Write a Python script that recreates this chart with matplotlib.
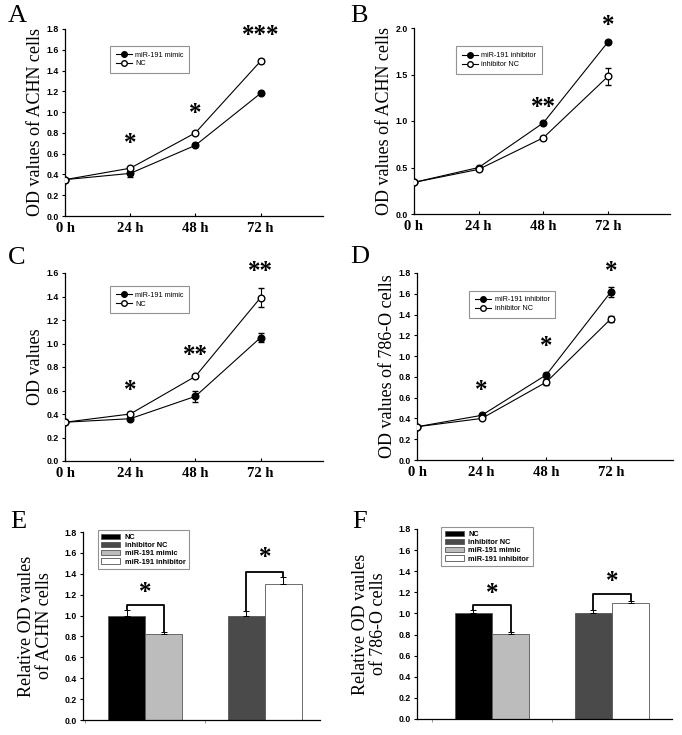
import numpy as np
import matplotlib
matplotlib.use("Agg")
import matplotlib.pyplot as plt
from matplotlib.patches import Patch
from matplotlib.lines import Line2D

# Datos
hours = [0, 24, 48, 72]
hour_labels = ["0 h", "24 h", "48 h", "72 h"]

# A: ACHN, mimic vs NC
a_mimic = [0.35, 0.41, 0.68, 1.18]
a_mimic_err = [0.0, 0.03, 0.01, 0.01]
a_nc = [0.35, 0.46, 0.80, 1.49]
a_nc_err = [0.0, 0.01, 0.01, 0.02]
a_stars = ["*", "*", "***"]
a_star_y = [0.70, 0.99, 1.74]

# B: ACHN, inhibitor vs inhibitor NC
b_inh = [0.34, 0.50, 0.98, 1.85]
b_inh_err = [0.0, 0.01, 0.01, 0.01]
b_nc = [0.34, 0.48, 0.82, 1.48]
b_nc_err = [0.0, 0.01, 0.02, 0.09]
b_stars = ["**", "*"]
b_star_y = [1.15, 2.03]

# C: mimic vs NC
c_mimic = [0.33, 0.36, 0.55, 1.05]
c_mimic_err = [0.0, 0.01, 0.05, 0.04]
c_nc = [0.33, 0.40, 0.72, 1.39]
c_nc_err = [0.0, 0.02, 0.01, 0.08]
c_stars = ["*", "**", "**"]
c_star_y = [0.60, 0.90, 1.61]

# D: 786-O, inhibitor vs inhibitor NC
d_inh = [0.32, 0.43, 0.82, 1.62]
d_inh_err = [0.0, 0.01, 0.02, 0.05]
d_nc = [0.32, 0.40, 0.75, 1.36]
d_nc_err = [0.0, 0.01, 0.03, 0.03]
d_stars = ["*", "*", "*"]
d_star_y = [0.67, 1.09, 1.81]

# E / F: barras relativas
bar_names = ["NC", "inhibitor NC", "miR-191 mimic", "miR-191 inhibitor"]
bar_colors = ["#000000", "#4a4a4a", "#bcbcbc", "#ffffff"]
e_vals = [1.00, 1.00, 0.82, 1.30]
e_err = [0.05, 0.045, 0.025, 0.07]
f_vals = [1.00, 1.00, 0.81, 1.10]
f_err = [0.035, 0.035, 0.01, 0.02]

W, H = 682, 735
fig = plt.figure(figsize=(W / 100, H / 100), dpi=100)

serif = "Liberation Serif"
sans = "Liberation Sans"


def px_axes(x0, y0, x1, y1):
    return fig.add_axes([x0 / W, (H - y1) / H, (x1 - x0) / W, (y1 - y0) / H])


def style_axes(ax, yticks):
    for s in ["top", "right"]:
        ax.spines[s].set_visible(False)
    ax.spines["left"].set_linewidth(0.9)
    ax.spines["bottom"].set_linewidth(0.9)
    ax.set_yticks(yticks)
    ax.set_yticklabels([f"{t:.1f}" for t in yticks], fontfamily=sans,
                       fontweight="bold", fontsize=6.3)
    ax.tick_params(axis="y", direction="out", length=2.5, width=0.8, pad=2)


def line_panel(rect, ylab, s1, e1, lab1, s2, e2, lab2, yticks, ymax,
               stars, star_y, star_x, legpos):
    ax = px_axes(*rect)
    ax.errorbar(hours, s1, yerr=e1, color="black", lw=0.8, marker="o",
                ms=4.8, mfc="black", mec="black", capsize=2, elinewidth=0.8,
                label=lab1, zorder=3)
    ax.errorbar(hours, s2, yerr=e2, color="black", lw=0.8, marker="o",
                ms=4.8, mfc="white", mec="black", capsize=2, elinewidth=0.8,
                label=lab2, zorder=4)
    ax.set_xlim(0, 95)
    ax.set_ylim(0, ymax)
    style_axes(ax, yticks)
    ax.set_xticks(hours)
    ax.set_xticklabels(hour_labels, fontfamily=serif, fontweight="bold",
                       fontsize=10.5)
    ax.tick_params(axis="x", direction="in", length=2.5, width=0.8, pad=4)
    ax.set_ylabel(ylab, fontfamily=serif, fontsize=13, labelpad=2)
    for sx, sy, st in zip(star_x, star_y, stars):
        ax.text(sx, sy, st, fontfamily=serif, fontweight="bold", fontsize=18,
                ha="center", va="center")
    handles = [Line2D([], [], color="black", lw=0.8, marker="o", ms=4,
                      mfc="black", mec="black"),
               Line2D([], [], color="black", lw=0.8, marker="o", ms=4,
                      mfc="white", mec="black")]
    leg = ax.legend(handles, [lab1, lab2], loc="upper left",
                    bbox_to_anchor=legpos, prop={"family": sans, "size": 5.2},
                    frameon=True, fancybox=False, edgecolor="#777777",
                    handlelength=2.2, borderpad=0.8, labelspacing=0.25,
                    handletextpad=0.5)
    leg.get_frame().set_linewidth(0.8)
    return ax


def add_letter(x, y, letter):
    fig.text(x / W, 1 - y / H, letter, fontfamily=serif, fontsize=19,
             ha="left", va="center")


line_panel((65, 29, 323, 216), "OD values of ACHN cells",
           a_mimic, a_mimic_err, "miR-191 mimic", a_nc, a_nc_err, "NC",
           np.arange(0, 1.81, 0.2), 1.8, a_stars, a_star_y, [24, 48, 72],
           (0.16, 0.93))
add_letter(8, 16, "A")

line_panel((414, 28, 670, 214), "OD values of ACHN cells",
           b_inh, b_inh_err, "miR-191 inhibitor", b_nc, b_nc_err,
           "inhibitor NC", np.arange(0, 2.01, 0.5), 2.0, b_stars, b_star_y,
           [48, 72], (0.15, 0.92))
add_letter(350, 16, "B")

line_panel((65, 273, 323, 461), "OD values",
           c_mimic, c_mimic_err, "miR-191 mimic", c_nc, c_nc_err, "NC",
           np.arange(0, 1.61, 0.2), 1.6, c_stars, c_star_y, [24, 48, 72],
           (0.16, 0.95))
add_letter(8, 258, "C")

line_panel((417, 273, 673, 460), "OD values of 786-O cells",
           d_inh, d_inh_err, "miR-191 inhibitor", d_nc, d_nc_err,
           "inhibitor NC", np.arange(0, 1.81, 0.2), 1.8, d_stars, d_star_y,
           [24, 48, 72], (0.19, 0.925))
add_letter(350, 257, "D")


def bar_panel(rect, ylab, vals, errs, xlim, brackets, star_y, legpos):
    ax = px_axes(*rect)
    w = 0.31
    # orden de grupos: (NC, mimic) y (inhibitor NC, inhibitor)
    pos = {0: -w / 2, 2: w / 2, 1: 1 - w / 2, 3: 1 + w / 2}
    for i in range(4):
        ax.bar(pos[i], vals[i], width=w, color=bar_colors[i],
               edgecolor="#555555", lw=0.6, zorder=2)
        ax.errorbar(pos[i], vals[i], yerr=[[0], [errs[i]]], color="black",
                    lw=0.7, capsize=2, capthick=0.7, zorder=3)
    for (a, b), by, sy in zip([(0, 2), (1, 3)], brackets, star_y):
        xa, xb = pos[a], pos[b]
        ax.plot([xa, xa, xb, xb],
                [vals[a] + errs[a], by, by, vals[b] + errs[b]],
                color="black", lw=1.3, zorder=4)
        ax.text((xa + xb) / 2, sy, "*", fontfamily=serif, fontweight="bold",
                fontsize=18, ha="center", va="center")
    ax.set_xlim(*xlim)
    ax.set_ylim(0, 1.8)
    style_axes(ax, np.arange(0, 1.81, 0.2))
    ax.set_xticks([-0.5, 0.5])
    ax.set_xticklabels([])
    ax.tick_params(axis="x", direction="out", length=2, width=0.6,
                   color="#888888")
    ax.set_ylabel(ylab, fontfamily=serif, fontsize=13, labelpad=8,
                  linespacing=1.1)
    handles = [Patch(facecolor=c, edgecolor="#555555", lw=0.6)
               for c in bar_colors]
    leg = ax.legend(handles, bar_names, loc="upper left",
                    bbox_to_anchor=legpos, prop={"family": sans, "size": 5.3,
                                                 "weight": "bold"},
                    frameon=True, fancybox=False, edgecolor="#777777",
                    handlelength=2.6, handleheight=0.7, borderpad=0.5,
                    labelspacing=0.15, handletextpad=0.6)
    leg.get_frame().set_linewidth(0.8)
    return ax


bar_panel((83, 532, 320, 720), "Relative OD vaules\nof ACHN cells",
          e_vals, e_err, (-0.52, 1.46), [1.10, 1.42], [1.22, 1.56],
          (0.046, 1.03))
add_letter(10, 522, "E")

bar_panel((417, 529, 672, 719), "Relative OD vaules\nof 786-O cells",
          f_vals, f_err, (-0.625, 1.5), [1.08, 1.18], [1.19, 1.30],
          (0.08, 1.03))
add_letter(352, 522, "F")

fig.savefig("out.png", dpi=100, facecolor="white")
